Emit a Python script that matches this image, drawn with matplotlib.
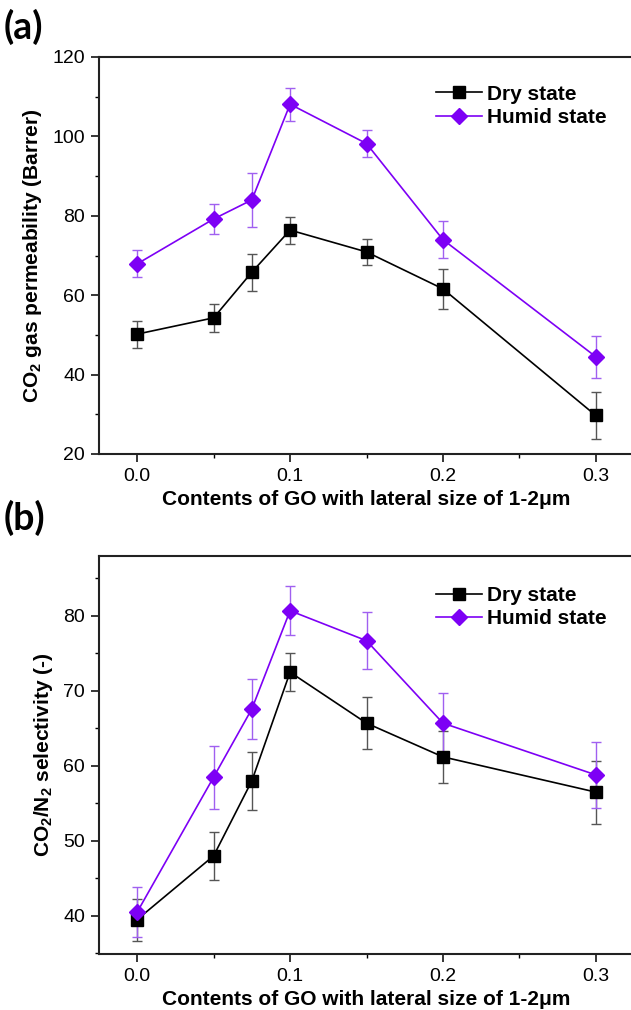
import matplotlib
matplotlib.use("Agg")
import matplotlib.pyplot as plt
from matplotlib.ticker import MultipleLocator

plt.rcParams["font.family"] = ["Liberation Sans", "DejaVu Sans"]
plt.rcParams["mathtext.fontset"] = "custom"
plt.rcParams["mathtext.rm"] = "Liberation Sans:bold"
plt.rcParams["mathtext.it"] = "Liberation Sans:bold"
plt.rcParams["mathtext.bf"] = "Liberation Sans:bold"

# GO loading (x) and measured values with standard deviations
go_content = [0.0, 0.05, 0.075, 0.1, 0.15, 0.2, 0.3]

perm_dry = [50.2, 54.3, 65.8, 76.4, 70.9, 61.6, 29.7]
perm_dry_err = [3.4, 3.5, 4.7, 3.4, 3.3, 5.0, 5.8]
perm_humid = [67.9, 79.2, 84.0, 108.1, 98.2, 74.0, 44.5]
perm_humid_err = [3.4, 3.8, 6.8, 4.2, 3.3, 4.6, 5.3]

sel_dry = [39.5, 48.0, 58.0, 72.5, 65.7, 61.2, 56.5]
sel_dry_err = [2.8, 3.2, 3.9, 2.5, 3.5, 3.5, 4.2]
sel_humid = [40.5, 58.5, 67.6, 80.7, 76.7, 65.7, 58.8]
sel_humid_err = [3.3, 4.2, 4.0, 3.3, 3.8, 4.0, 4.4]

series_labels = ["Dry state", "Humid state"]
x_label = "Contents of GO with lateral size of 1-2\u03bcm"

DRY = "#000000"
DRY_ERR = "#555555"
HUM = "#7d00f5"
HUM_ERR = "#a060f0"

W, H = 631, 1010
fig = plt.figure(figsize=(W / 100, H / 100), dpi=100)


def frac(left, top, right, bottom):
    return [left / W, 1 - bottom / H, (right - left) / W, (bottom - top) / H]


ax_a = fig.add_axes(frac(99, 57, 634, 454))
ax_b = fig.add_axes(frac(99, 556, 634, 954))


def draw_panel(ax, dry, dry_err, hum, hum_err, ylim, major, minor, ylabel, legend_anchor):
    ax.errorbar(go_content, dry, yerr=dry_err, fmt="none", ecolor=DRY_ERR,
                elinewidth=1.0, capsize=3.5, capthick=1.0, zorder=2)
    ax.errorbar(go_content, hum, yerr=hum_err, fmt="none", ecolor=HUM_ERR,
                elinewidth=1.0, capsize=3.5, capthick=1.0, zorder=2)
    l1, = ax.plot(go_content, dry, color=DRY, lw=1.2, marker="s", ms=9.2,
                  mfc=DRY, mec=DRY, zorder=3)
    l2, = ax.plot(go_content, hum, color=HUM, lw=1.2, marker="D", ms=8.4,
                  mfc=HUM, mec=HUM, zorder=3)
    ax.set_xlim(-0.025, 0.325)
    ax.set_ylim(*ylim)
    ax.xaxis.set_major_locator(MultipleLocator(0.1))
    ax.xaxis.set_minor_locator(MultipleLocator(0.05))
    ax.yaxis.set_major_locator(MultipleLocator(major))
    ax.yaxis.set_minor_locator(MultipleLocator(minor))
    ax.xaxis.set_major_formatter(plt.FuncFormatter(lambda v, p: f"{v:.1f}"))
    ax.tick_params(which="major", direction="out", length=6, width=1.1,
                   labelsize=14, pad=4, top=False, right=False)
    ax.tick_params(which="minor", direction="out", length=3, width=1.0,
                   top=False, right=False)
    for sp in ax.spines.values():
        sp.set_linewidth(1.5)
        sp.set_color("#222222")
    ax.set_xlabel(x_label, fontsize=15, fontweight="bold", labelpad=4)
    ax.set_ylabel(ylabel, fontsize=15, fontweight="bold", labelpad=6)
    ax.legend([l1, l2], series_labels, loc="upper left", bbox_to_anchor=legend_anchor,
              frameon=False, prop={"size": 15, "weight": "bold"},
              handlelength=2.2, handletextpad=0.25, labelspacing=0.2,
              borderaxespad=0, borderpad=0)


draw_panel(ax_a, perm_dry, perm_dry_err, perm_humid, perm_humid_err,
           (20, 120), 20, 10, "CO$_2$ gas permeability (Barrer)", (0.63, 0.93))
draw_panel(ax_b, sel_dry, sel_dry_err, sel_humid, sel_humid_err,
           (34.9, 88), 10, 5, "CO$_2$/N$_2$ selectivity (-)", (0.63, 0.925))

fig.text(4 / W, 1 - 27 / H, "(a)", fontsize=27, fontweight="bold",
         family=["Lato", "DejaVu Sans"], va="center", ha="left")
fig.text(4 / W, 1 - 518 / H, "(b)", fontsize=27, fontweight="bold",
         family=["Lato", "DejaVu Sans"], va="center", ha="left")

fig.savefig("out.png", dpi=100, facecolor="white")
